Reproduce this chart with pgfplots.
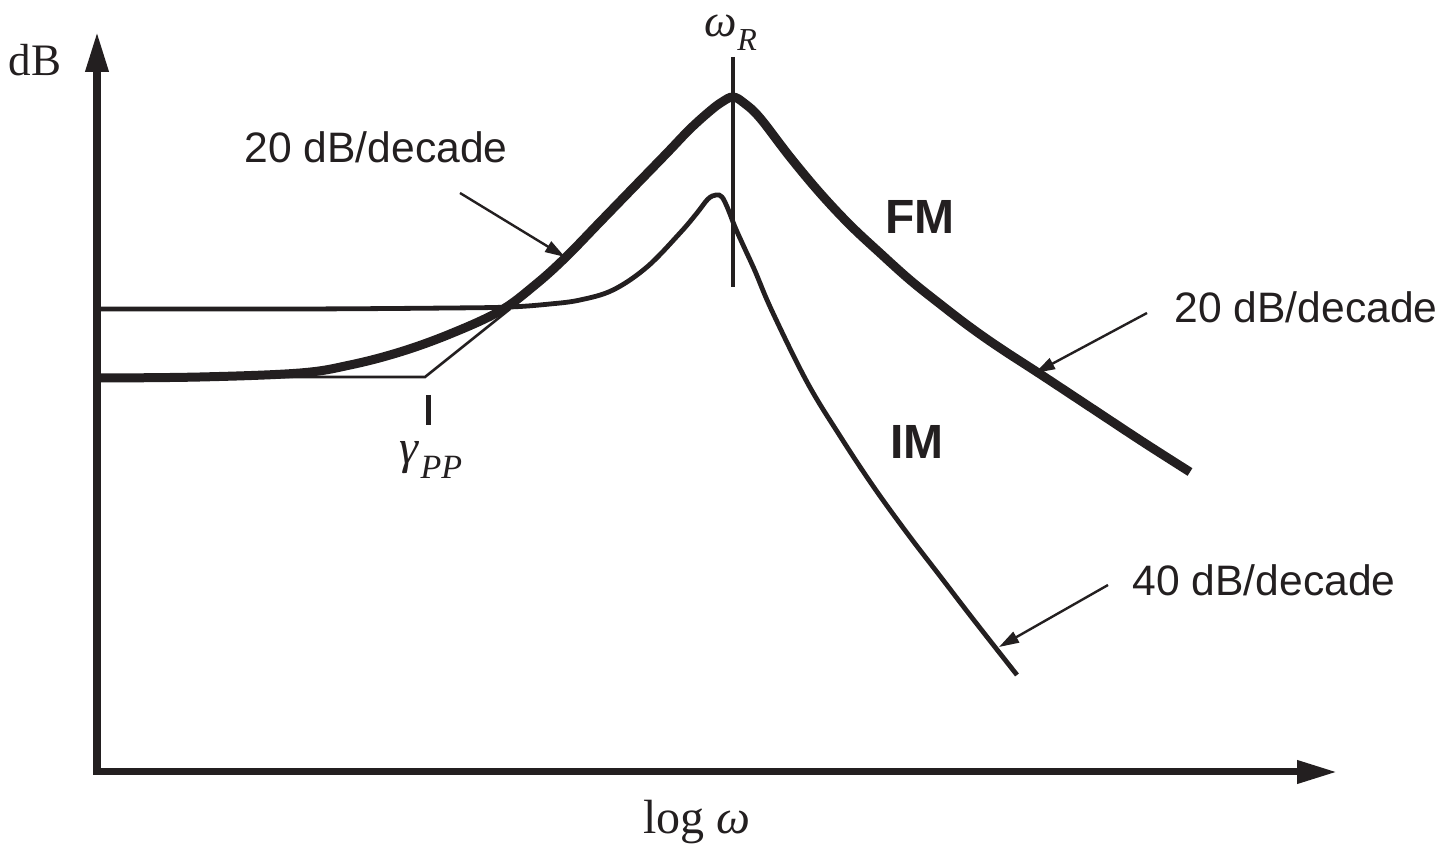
\documentclass[border=0pt]{standalone}
\usepackage{fontspec}
\setmainfont{Liberation Sans}
\newfontfamily\tnr{Liberation Serif}
\usepackage{pgfplots}
\pgfplotsset{compat=1.18}
\usetikzlibrary{arrows.meta}
\definecolor{ink}{RGB}{35,31,32}
\begin{document}
\begin{tikzpicture}
\begin{axis}[
  scale only axis, width=620pt, height=370pt,
  xmin=97, xmax=1337, ymin=75, ymax=815,
  axis lines=left,
  axis line style={line width=3.5pt, draw=ink, line cap=rect, -{Triangle[length=20pt,width=11pt]}},
  xtick=\empty, ytick=\empty,
  clip=false,
]
\path (axis cs:0,0) rectangle (axis cs:1447,847);
% FM (y = 847 - pixel row)
\addplot[ink, line width=4.5pt, smooth, tension=0.6, line cap=butt] coordinates {
(97,469) (200,470) (300,474) (350,482) (400,495) (450,513) (500,536) (535,562)
(565,589) (600,625) (633,659) (667,694) (690,718) (710,736) (722,745) (733,750)
(744,744) (760,729) (790,690) (820,654) (850,622) (880,594) (910,567) (940,543)
(970,520) (1000,499) (1040,473) (1093,438) (1143,405) (1190,375)};
% IM
\addplot[ink, line width=2.4pt, smooth, tension=0.6] coordinates {
(97,538) (300,538) (450,539) (510,540) (550,543) (580,547) (613,557) (647,580)
(680,614) (697,634) (708,648) (716,652) (722,650) (728,638) (735,620) (744,600)
(755,576) (772,536) (807,465) (840,411) (873,361) (907,314) (940,271) (973,228)
(1017,172)};
% asymptote
\addplot[ink, line width=1.3pt] coordinates {(97,470) (425,470) (510,538)};
% gamma tick
\addplot[ink, line width=2.5pt] coordinates {(428,452) (428,422)};
% omega_R line
\addplot[ink, line width=1.8pt] coordinates {(733,790) (733,560)};
% labels
\node[font=\tnr\fontsize{22.5}{26}\selectfont, text=ink] at (axis cs:35,787) {dB};
\node[font=\tnr\fontsize{24}{28}\selectfont, text=ink] at (axis cs:697,25) {log {\itshape ω}};
\node[font=\tnr\itshape\fontsize{23}{27}\selectfont, text=ink, inner sep=0pt] at (axis cs:731,814) {ω\raisebox{-0.3em}{\fontsize{16}{18}\selectfont R}};
\node[font=\tnr\itshape\fontsize{24}{28}\selectfont, text=ink] at (axis cs:431,387) {γ\kern1pt\raisebox{-0.3em}{\fontsize{17}{19}\selectfont PP}};
\node[font=\fontsize{21.3}{25}\selectfont, text=ink] at (axis cs:376,700) {20 dB/decade};
\node[font=\bfseries\fontsize{24}{28}\selectfont, text=ink] at (axis cs:920,630) {FM};
\node[font=\bfseries\fontsize{24}{28}\selectfont, text=ink] at (axis cs:917,405) {IM};
\node[font=\fontsize{21.3}{25}\selectfont, text=ink] at (axis cs:1306,540) {20 dB/decade};
\node[font=\fontsize{21.3}{25}\selectfont, text=ink] at (axis cs:1264,267) {40 dB/decade};
\draw[ink, line width=1.2pt, -{Triangle[length=10pt,width=6pt]}] (axis cs:460,654) -- (axis cs:565,590);
\draw[ink, line width=1.2pt, -{Triangle[length=10pt,width=6pt]}] (axis cs:1147,534) -- (axis cs:1035,474);
\draw[ink, line width=1.2pt, -{Triangle[length=10pt,width=6pt]}] (axis cs:1108,262) -- (axis cs:999,200);
\end{axis}
\end{tikzpicture}
\end{document}
